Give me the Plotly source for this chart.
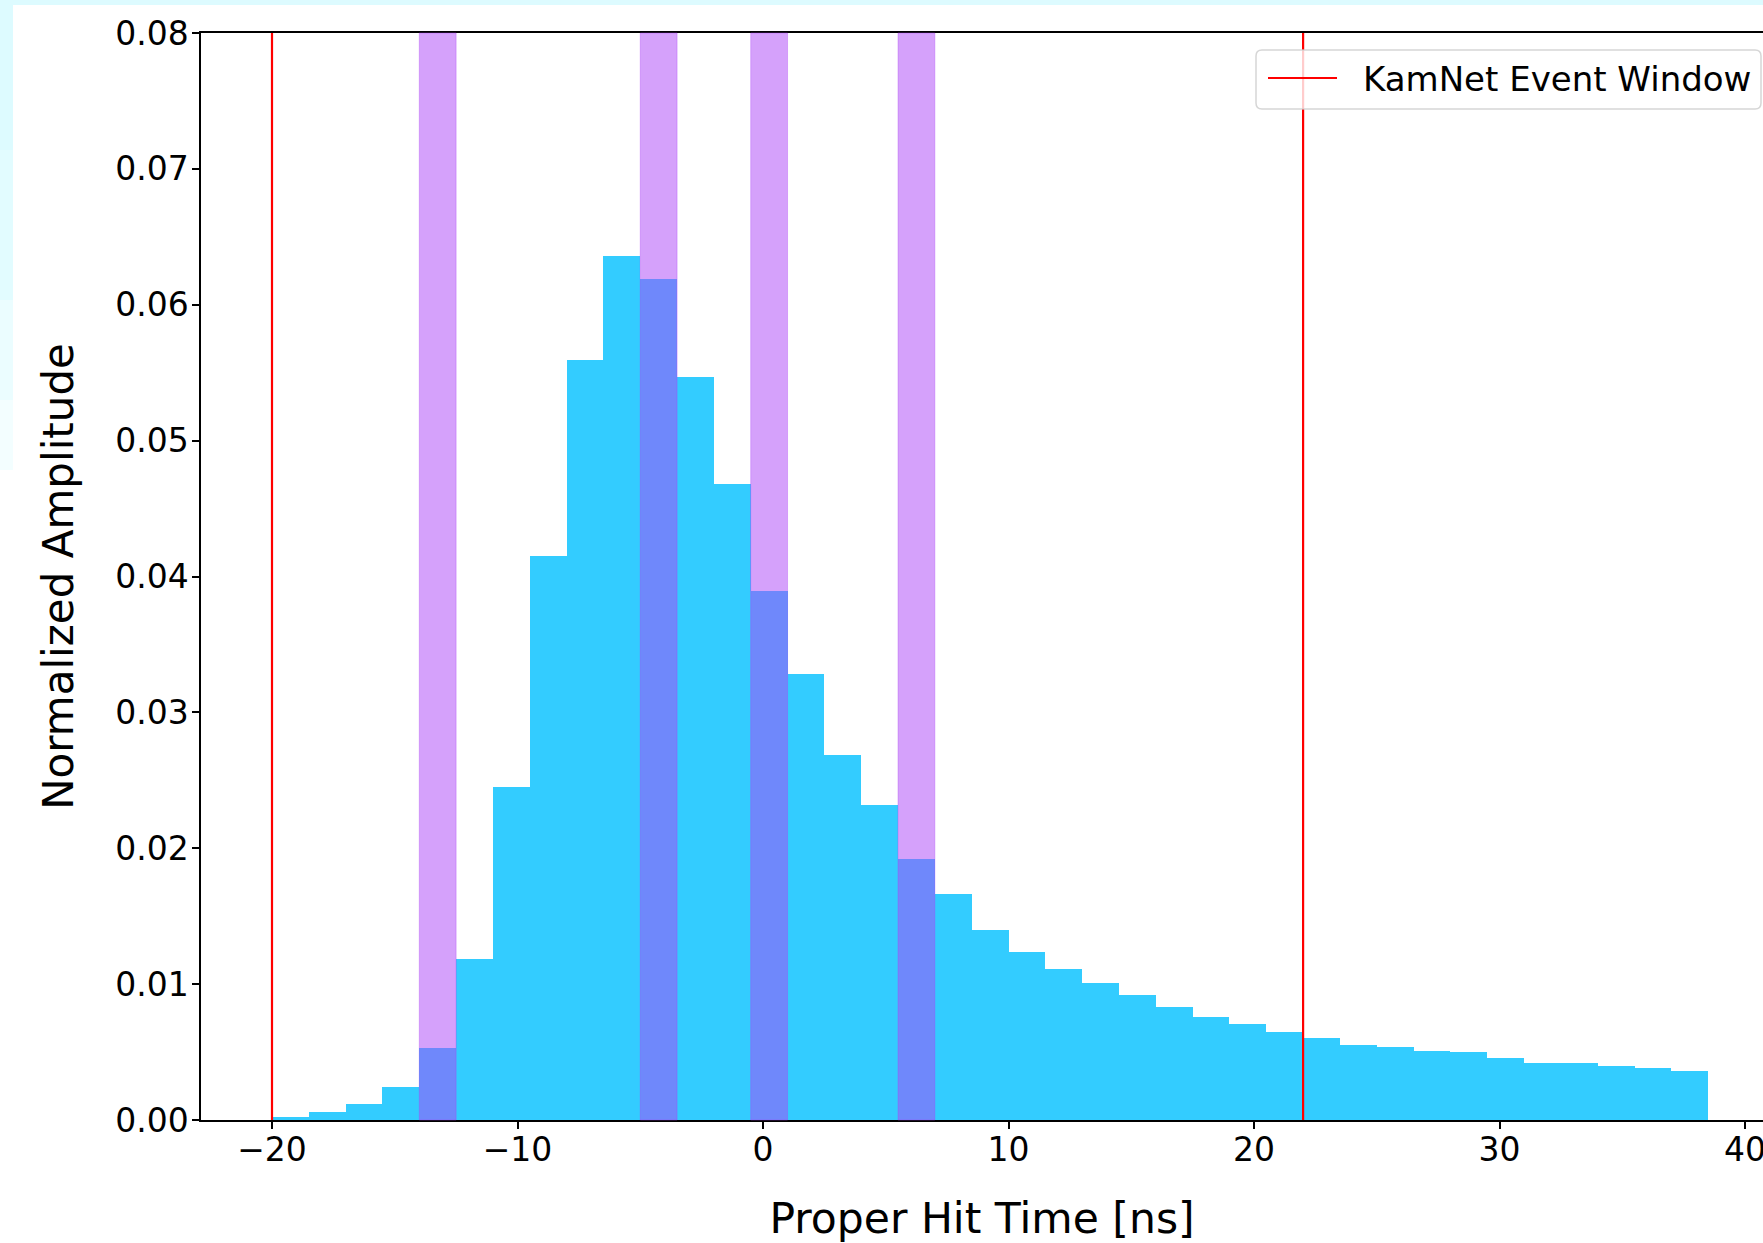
import plotly.graph_objects as go

# ---- data ----
bin_lower_edges = [-20.0, -18.5, -17.0, -15.5, -14.0, -12.5, -11.0, -9.5, -8.0, -6.5,
                   -5.0, -3.5, -2.0, -0.5, 1.0, 2.5, 4.0, 5.5, 7.0, 8.5,
                   10.0, 11.5, 13.0, 14.5, 16.0, 17.5, 19.0, 20.5, 22.0, 23.5,
                   25.0, 26.5, 28.0, 29.5, 31.0, 32.5, 34.0, 35.5, 37.0]
bin_width = 1.5
amplitudes = [0.00025, 0.00056, 0.00118, 0.00245, 0.00532, 0.01182, 0.0245, 0.0415, 0.0559, 0.0636,
              0.0619, 0.0547, 0.0468, 0.0389, 0.0328, 0.0269, 0.0232, 0.0192, 0.0166, 0.0140,
              0.0124, 0.0111, 0.0101, 0.0092, 0.0083, 0.0076, 0.0071, 0.0065, 0.0060, 0.0055,
              0.0054, 0.0051, 0.0050, 0.0046, 0.0042, 0.0042, 0.0040, 0.0038, 0.0036]
highlight_start = [-14.0, -5.0, -0.5, 5.5]
highlight_end = [-12.5, -3.5, 1.0, 7.0]
event_window = [-20, 22]
legend_label = "KamNet Event Window"
x_ticks = [-20, -10, 0, 10, 20, 30, 40]
y_ticks = [0.00, 0.01, 0.02, 0.03, 0.04, 0.05, 0.06, 0.07, 0.08]

FONT = "DejaVu Sans"
W, H = 1763, 1243
ML, MR, MT, MB = 201, 0, 33, 123

pw = W - ML - MR
ph = H - MT - MB


def px2x(p):
    return (p - ML) / pw


def py2y(p):
    return 1 - (p - MT) / ph


fig = go.Figure()

fig.add_trace(go.Bar(
    x=bin_lower_edges, y=amplitudes, width=bin_width, offset=0,
    marker=dict(color="rgba(0,191,255,0.8)", line=dict(width=0)),
    showlegend=False, hoverinfo="x+y",
))

lx, ly = [], []
for xv in event_window:
    lx += [xv, xv, None]
    ly += [0, 0.08, None]
fig.add_trace(go.Scatter(
    x=lx, y=ly, mode="lines", line=dict(color="#ff0000", width=2.2),
    name=legend_label, showlegend=False,
))

shapes = []
for a, b in zip(highlight_start, highlight_end):
    shapes.append(dict(type="rect", xref="x", yref="paper", x0=a, x1=b, y0=0, y1=1,
                       fillcolor="rgba(171,67,247,0.5)",
                       line=dict(color="rgba(171,67,247,0.35)", width=1), layer="above"))

# light cyan page border (screenshot background) top and left
shapes.append(dict(type="rect", xref="paper", yref="paper",
                   x0=px2x(0), x1=px2x(W), y0=py2y(5), y1=py2y(0),
                   fillcolor="#ddfbff", line=dict(width=0), layer="below"))
segs = [(0, 150, 1.0), (150, 300, 0.85), (300, 400, 0.6), (400, 470, 0.35)]
for t0, t1, op in segs:
    shapes.append(dict(type="rect", xref="paper", yref="paper",
                       x0=px2x(0), x1=px2x(13), y0=py2y(t1), y1=py2y(t0),
                       fillcolor="#ddfbff", opacity=op, line=dict(width=0), layer="below"))

# legend box (rounded rectangle) drawn as a path in paper coordinates
bx0, bx1, by0, by1, r = 1256, 1761, 50, 109, 6
def P(xp, yp):
    return f"{px2x(xp):.6f},{py2y(yp):.6f}"
path = (f"M {P(bx0 + r, by0)} L {P(bx1 - r, by0)} Q {P(bx1, by0)} {P(bx1, by0 + r)} "
        f"L {P(bx1, by1 - r)} Q {P(bx1, by1)} {P(bx1 - r, by1)} "
        f"L {P(bx0 + r, by1)} Q {P(bx0, by1)} {P(bx0, by1 - r)} "
        f"L {P(bx0, by0 + r)} Q {P(bx0, by0)} {P(bx0 + r, by0)} Z")
shapes.append(dict(type="path", xref="paper", yref="paper", path=path,
                   fillcolor="rgba(255,255,255,0.8)",
                   line=dict(color="rgba(204,204,204,0.8)", width=1.5), layer="above"))
shapes.append(dict(type="line", xref="paper", yref="paper",
                   x0=px2x(1268), x1=px2x(1337), y0=py2y(78), y1=py2y(78),
                   line=dict(color="#ff0000", width=2.2), layer="above"))

annotations = [dict(text=legend_label, xref="paper", yref="paper",
                    x=px2x(1361), y=py2y(79), xanchor="left", yanchor="middle",
                    showarrow=False, font=dict(family=FONT, size=34, color="black"))]

fig.update_layout(
    width=W, height=H,
    margin=dict(l=ML, r=MR, t=MT, b=MB, autoexpand=False),
    paper_bgcolor="white", plot_bgcolor="white",
    font=dict(family=FONT, size=33, color="black"),
    bargap=0,
    shapes=shapes,
    annotations=annotations,
    showlegend=False,
    xaxis=dict(
        range=[-22.892, 40.733], tickmode="array", tickvals=x_ticks,
        ticks="outside", ticklen=7, tickwidth=1.5, tickcolor="black",
        showline=True, linecolor="black", linewidth=1.5, mirror=True,
        showgrid=False, zeroline=False, ticklabeloverflow="allow",
        ticklabelstandoff=-7,
        tickfont=dict(family=FONT, size=33),
        title=dict(text="Proper Hit Time [ns]", font=dict(family=FONT, size=42.5), standoff=37),
        automargin=False,
    ),
    yaxis=dict(
        range=[0, 0.08], tickmode="array", tickvals=y_ticks, tickformat=".2f",
        ticks="outside", ticklen=7, tickwidth=1.5, tickcolor="black",
        showline=True, linecolor="black", linewidth=1.5, mirror=False,
        showgrid=False, zeroline=False, ticklabelstandoff=-3,
        tickfont=dict(family=FONT, size=33),
        title=dict(text="Normalized Amplitude", font=dict(family=FONT, size=42), standoff=28),
        automargin=False,
    ),
)

fig.write_html("out.html", config={"displayModeBar": False},
               post_script="document.body.style.margin='0';document.body.style.overflow='hidden';")
